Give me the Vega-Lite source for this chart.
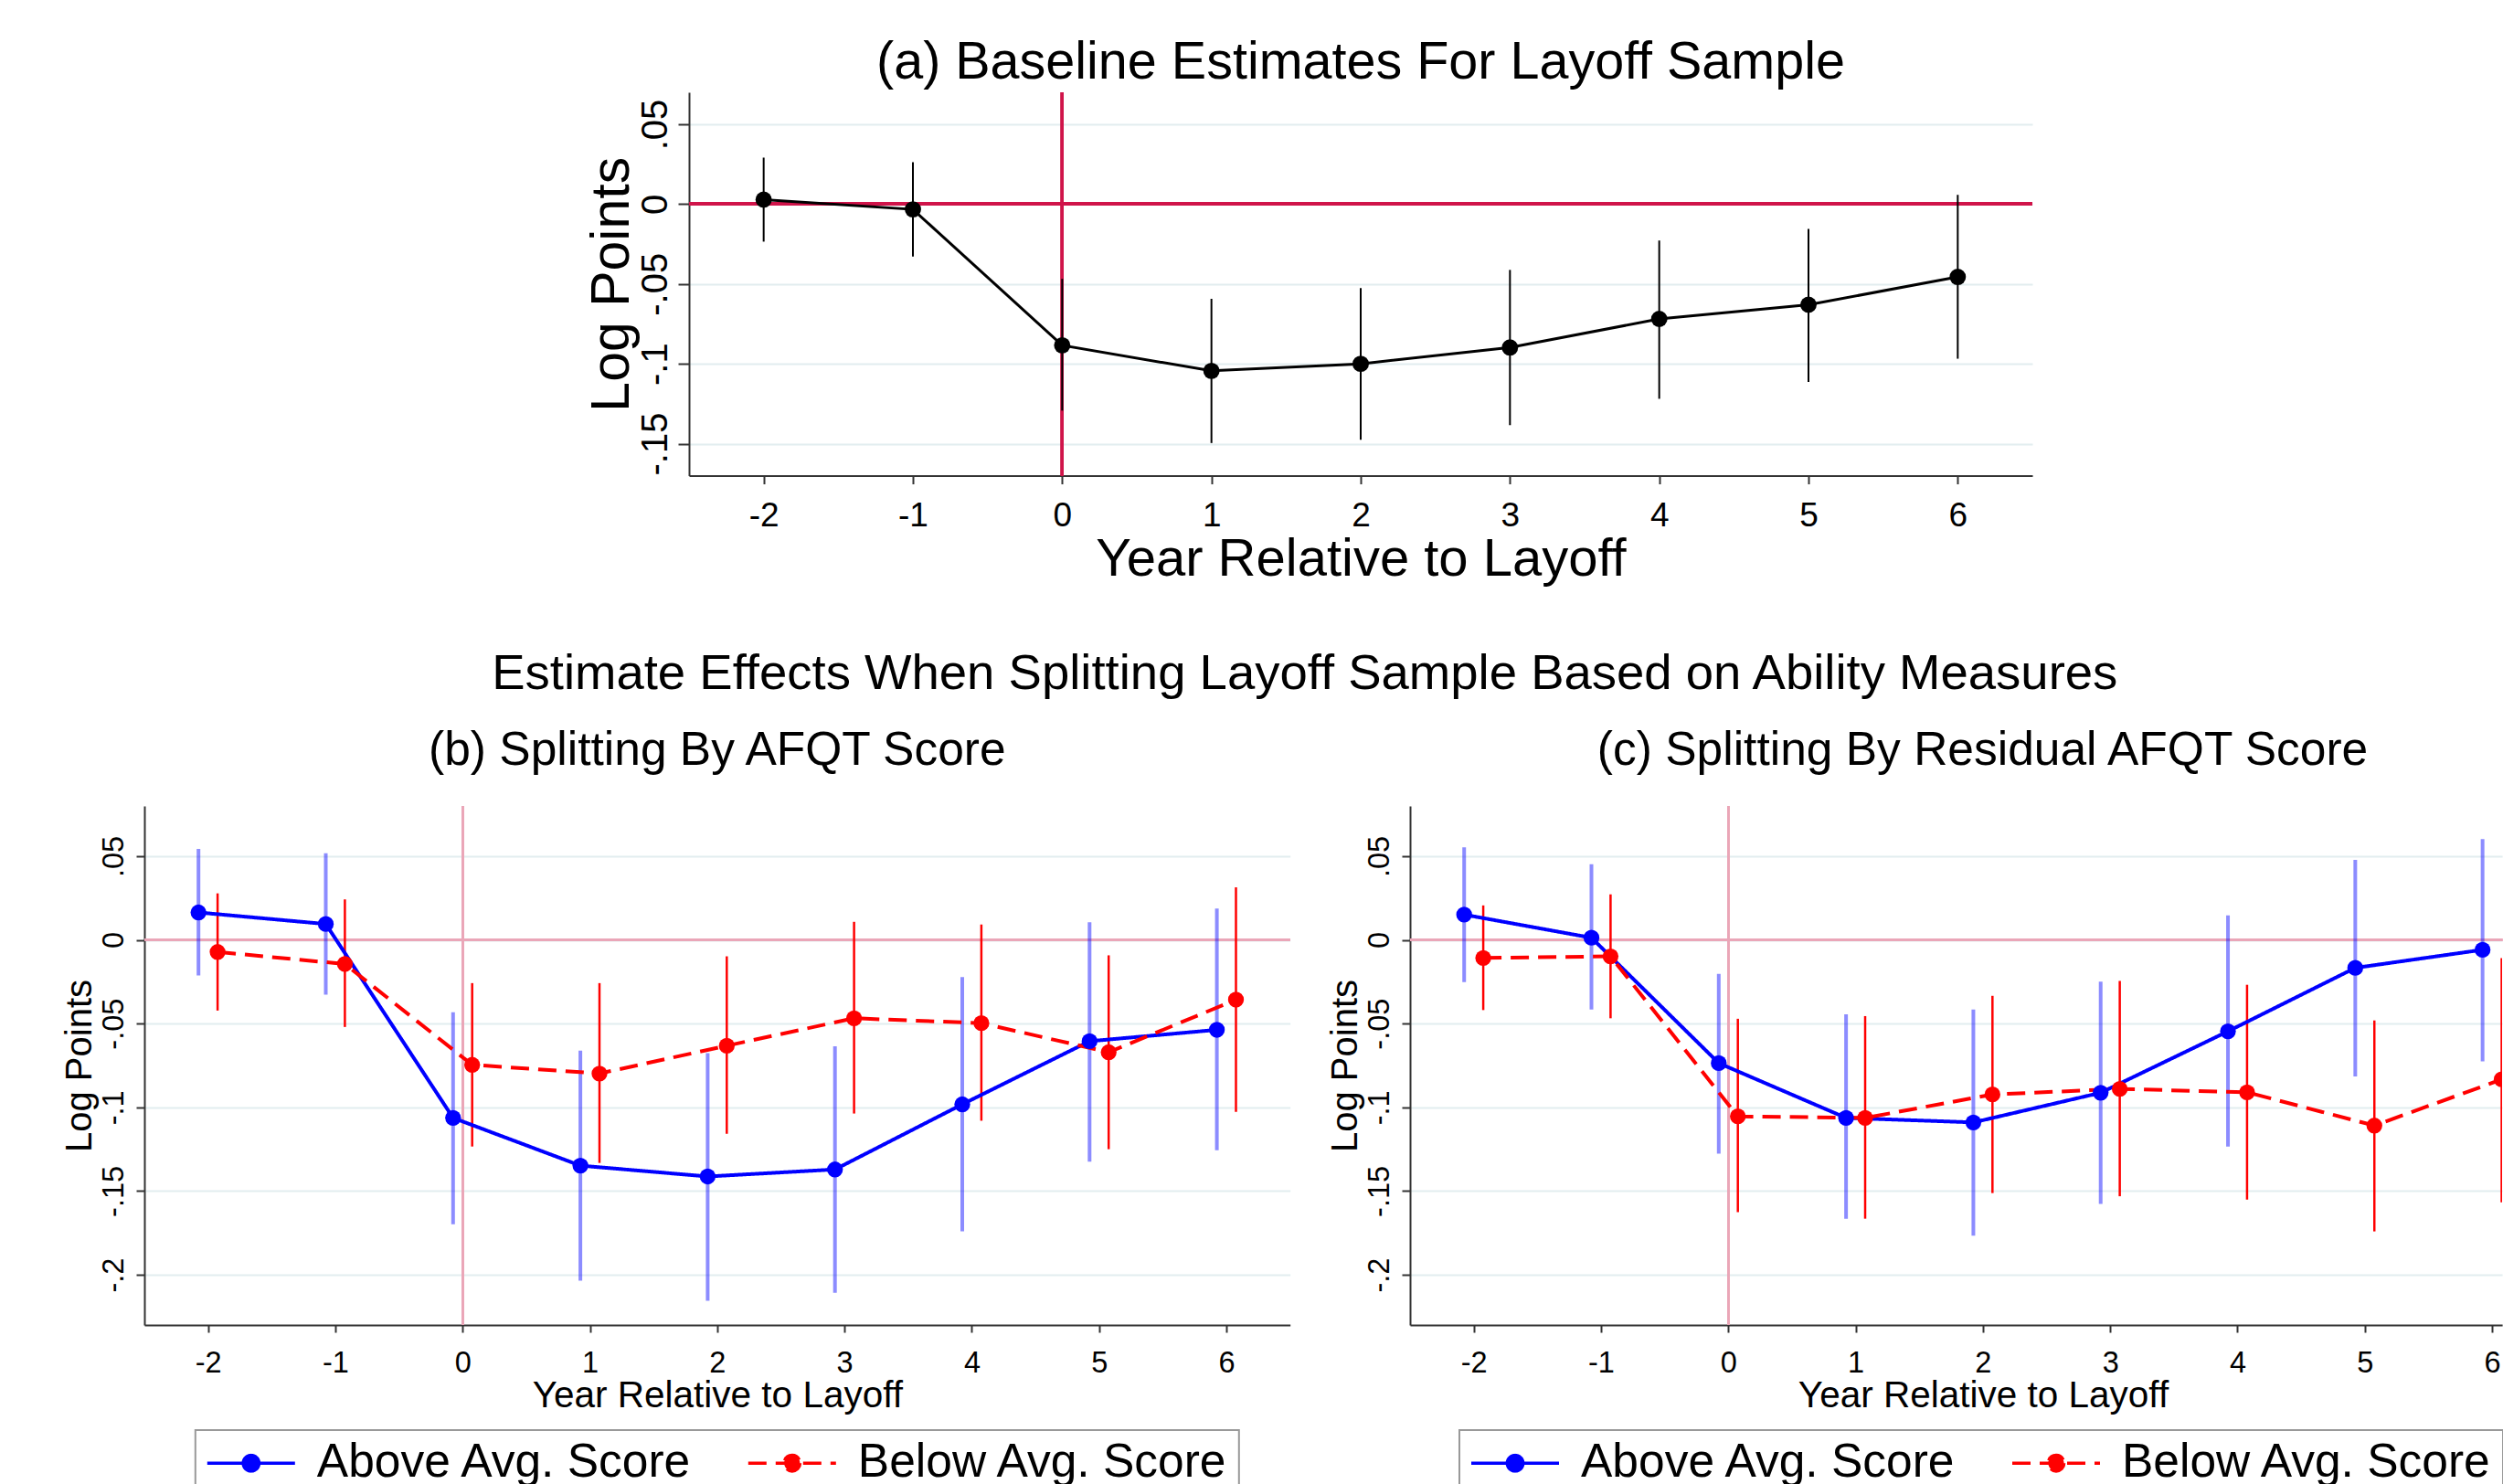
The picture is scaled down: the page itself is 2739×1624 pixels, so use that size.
{
  "$schema": "https://vega.github.io/schema/vega-lite/v6.json",
  "background": "white",
  "padding": {"left": 67, "top": 40, "right": 0, "bottom": 0},
  "config": {
    "view": {"stroke": null},
    "font": "Liberation Sans",
    "title": {"font": "Liberation Sans", "fontWeight": "normal", "color": "#000"},
    "axis": {
      "labelFont": "Liberation Sans", "titleFont": "Liberation Sans",
      "labelColor": "#000", "titleColor": "#000", "titleFontWeight": "normal",
      "domainColor": "#333", "tickColor": "#333", "domainWidth": 2, "tickWidth": 2,
      "gridColor": "#e2edef", "gridWidth": 2, "labelFlush": false, "labelOverlap": false
    }
  },
  "datasets": {
    "a": [
      {"year": -2, "est": 0.0028, "lo": -0.0235, "hi": 0.0291},
      {"year": -1, "est": -0.0033, "lo": -0.0328, "hi": 0.0263},
      {"year": 0, "est": -0.0884, "lo": -0.1293, "hi": -0.0468},
      {"year": 1, "est": -0.1044, "lo": -0.1496, "hi": -0.0593},
      {"year": 2, "est": -0.1000, "lo": -0.1475, "hi": -0.0526},
      {"year": 3, "est": -0.0898, "lo": -0.1384, "hi": -0.0412},
      {"year": 4, "est": -0.0719, "lo": -0.1219, "hi": -0.0228},
      {"year": 5, "est": -0.0630, "lo": -0.1114, "hi": -0.0156},
      {"year": 6, "est": -0.0456, "lo": -0.0968, "hi": 0.0058}
    ],
    "b": [
      {"year": -2, "pos": -2.075, "group": "Above Avg. Score", "est": 0.0164, "lo": -0.0213, "hi": 0.0543},
      {"year": -1, "pos": -1.075, "group": "Above Avg. Score", "est": 0.0095, "lo": -0.0327, "hi": 0.0517},
      {"year": 0, "pos": -0.075, "group": "Above Avg. Score", "est": -0.1063, "lo": -0.1698, "hi": -0.0432},
      {"year": 1, "pos": 0.925, "group": "Above Avg. Score", "est": -0.1348, "lo": -0.2035, "hi": -0.0661},
      {"year": 2, "pos": 1.925, "group": "Above Avg. Score", "est": -0.1413, "lo": -0.2156, "hi": -0.0677},
      {"year": 3, "pos": 2.925, "group": "Above Avg. Score", "est": -0.1371, "lo": -0.2107, "hi": -0.0635},
      {"year": 4, "pos": 3.925, "group": "Above Avg. Score", "est": -0.0982, "lo": -0.1741, "hi": -0.0222},
      {"year": 5, "pos": 4.925, "group": "Above Avg. Score", "est": -0.0605, "lo": -0.1325, "hi": 0.0105},
      {"year": 6, "pos": 5.925, "group": "Above Avg. Score", "est": -0.0537, "lo": -0.1256, "hi": 0.0187},
      {"year": -2, "pos": -1.925, "group": "Below Avg. Score", "est": -0.0072, "lo": -0.0422, "hi": 0.0278},
      {"year": -1, "pos": -0.925, "group": "Below Avg. Score", "est": -0.0144, "lo": -0.0520, "hi": 0.0242},
      {"year": 0, "pos": 0.075, "group": "Below Avg. Score", "est": -0.0746, "lo": -0.1234, "hi": -0.0258},
      {"year": 1, "pos": 1.075, "group": "Below Avg. Score", "est": -0.0798, "lo": -0.1332, "hi": -0.0258},
      {"year": 2, "pos": 2.075, "group": "Below Avg. Score", "est": -0.0632, "lo": -0.1158, "hi": -0.0098},
      {"year": 3, "pos": 3.075, "group": "Below Avg. Score", "est": -0.0468, "lo": -0.1037, "hi": 0.0108},
      {"year": 4, "pos": 4.075, "group": "Below Avg. Score", "est": -0.0497, "lo": -0.1080, "hi": 0.0092},
      {"year": 5, "pos": 5.075, "group": "Below Avg. Score", "est": -0.0671, "lo": -0.1250, "hi": -0.0092},
      {"year": 6, "pos": 6.075, "group": "Below Avg. Score", "est": -0.0357, "lo": -0.1027, "hi": 0.0314}
    ],
    "c": [
      {"year": -2, "pos": -2.075, "group": "Above Avg. Score", "est": 0.0151, "lo": -0.0252, "hi": 0.0553},
      {"year": -1, "pos": -1.075, "group": "Above Avg. Score", "est": 0.0013, "lo": -0.0416, "hi": 0.0452},
      {"year": 0, "pos": -0.075, "group": "Above Avg. Score", "est": -0.0736, "lo": -0.1276, "hi": -0.0203},
      {"year": 1, "pos": 0.925, "group": "Above Avg. Score", "est": -0.1063, "lo": -0.1665, "hi": -0.0445},
      {"year": 2, "pos": 1.925, "group": "Above Avg. Score", "est": -0.1090, "lo": -0.1767, "hi": -0.0416},
      {"year": 3, "pos": 2.925, "group": "Above Avg. Score", "est": -0.0913, "lo": -0.1577, "hi": -0.0249},
      {"year": 4, "pos": 3.925, "group": "Above Avg. Score", "est": -0.0546, "lo": -0.1234, "hi": 0.0147},
      {"year": 5, "pos": 4.925, "group": "Above Avg. Score", "est": -0.0167, "lo": -0.0815, "hi": 0.0478},
      {"year": 6, "pos": 5.925, "group": "Above Avg. Score", "est": -0.0059, "lo": -0.0726, "hi": 0.0602},
      {"year": -2, "pos": -1.925, "group": "Below Avg. Score", "est": -0.0108, "lo": -0.0419, "hi": 0.0206},
      {"year": -1, "pos": -0.925, "group": "Below Avg. Score", "est": -0.0098, "lo": -0.0468, "hi": 0.0272},
      {"year": 0, "pos": 0.075, "group": "Below Avg. Score", "est": -0.1054, "lo": -0.1626, "hi": -0.0471},
      {"year": 1, "pos": 1.075, "group": "Below Avg. Score", "est": -0.1063, "lo": -0.1665, "hi": -0.0455},
      {"year": 2, "pos": 2.075, "group": "Below Avg. Score", "est": -0.0923, "lo": -0.1512, "hi": -0.0334},
      {"year": 3, "pos": 3.075, "group": "Below Avg. Score", "est": -0.0890, "lo": -0.1531, "hi": -0.0245},
      {"year": 4, "pos": 4.075, "group": "Below Avg. Score", "est": -0.0910, "lo": -0.1551, "hi": -0.0268},
      {"year": 5, "pos": 5.075, "group": "Below Avg. Score", "est": -0.1109, "lo": -0.1741, "hi": -0.0481},
      {"year": 6, "pos": 6.075, "group": "Below Avg. Score", "est": -0.0833, "lo": -0.1567, "hi": -0.0109}
    ]
  },
  "spacing": 69,
  "vconcat": [
    {
      "spacing": 0,
      "hconcat": [
        {"width": 482, "height": 1, "data": {"values": []}, "mark": "point"},
        {
          "width": 1470, "height": 419.5,
          "title": {"text": "(a) Baseline Estimates For Layoff Sample", "fontSize": 57.5, "offset": 1, "frame": "group"},
          "data": {"name": "a"},
          "layer": [
            {"mark": {"type": "rule", "color": "#d0144a", "strokeWidth": 3.5}, "encoding": {"y": {"datum": 0, "type": "quantitative"}}},
            {"mark": {"type": "rule", "color": "#d0144a", "strokeWidth": 3}, "encoding": {"x": {"datum": 0, "type": "quantitative"}}},
            {"mark": {"type": "rule", "color": "#000", "strokeWidth": 2},
             "encoding": {
               "x": {"field": "year", "type": "quantitative", "scale": {"domain": [-2.5, 6.5], "nice": false, "zero": false},
                     "axis": {"title": "Year Relative to Layoff", "titleFontSize": 58, "titlePadding": 0.5, "labelFontSize": 37, "labelPadding": 17, "tickSize": 9, "grid": false,
                              "values": [-2, -1, 0, 1, 2, 3, 4, 5, 6], "labelExpr": "(datum.value < 0 ? '-' : '') + abs(datum.value)"}},
               "y": {"field": "lo", "type": "quantitative", "scale": {"domain": [-0.17, 0.07], "nice": false, "zero": false},
                     "axis": {"title": "Log Points", "titleFontSize": 59, "titlePadding": -2, "labelFontSize": 40, "labelAngle": 270, "labelAlign": "center", "labelBaseline": "bottom", "labelPadding": 5, "tickSize": 12, "grid": true,
                              "values": [-0.15, -0.1, -0.05, 0, 0.05], "labelExpr": "datum.value == 0 ? '0' : (datum.value < 0 ? '-' : '') + replace(format(abs(datum.value), '.2~f'), '0.', '.')"}},
               "y2": {"field": "hi"}
             }},
            {"mark": {"type": "line", "color": "#000", "strokeWidth": 3}, "encoding": {"x": {"field": "year", "type": "quantitative"}, "y": {"field": "est", "type": "quantitative"}}},
            {"mark": {"type": "point", "filled": true, "color": "#000", "size": 320, "opacity": 1}, "encoding": {"x": {"field": "year", "type": "quantitative"}, "y": {"field": "est", "type": "quantitative"}}}
          ]
        }
      ]
    },
    {
      "spacing": 39,
      "title": {"text": "Estimate Effects When Splitting Layoff Sample Based on Ability Measures", "fontSize": 54.5, "offset": 30, "anchor": "middle", "dx": 24},
      "resolve": {"scale": {"color": "independent", "strokeDash": "independent"}, "legend": {"color": "independent"}},
      "hconcat": [
        {
          "width": 1253.7, "height": 568,
          "title": {"text": "(b) Splitting By AFQT Score", "fontSize": 51.5, "offset": 34, "frame": "group"},
          "data": {"name": "b"},
          "layer": [
            {"mark": {"type": "rule", "color": "#eaa6b8", "strokeWidth": 2.5}, "encoding": {"y": {"datum": 0, "type": "quantitative"}}},
            {"mark": {"type": "rule", "color": "#eaa6b8", "strokeWidth": 2}, "encoding": {"x": {"datum": 0, "type": "quantitative"}}},
            {"transform": [{"filter": "datum.group === 'Above Avg. Score'"}],
             "mark": {"type": "rule", "color": "#0000ff", "opacity": 0.45, "strokeWidth": 4},
             "encoding": {
               "x": {"field": "pos", "type": "quantitative", "scale": {"domain": [-2.5, 6.5], "nice": false, "zero": false},
                     "axis": {"title": "Year Relative to Layoff", "titleFontSize": 40.5, "titlePadding": 0, "labelFontSize": 32.5, "labelPadding": 17, "tickSize": 8, "grid": false,
                              "values": [-2, -1, 0, 1, 2, 3, 4, 5, 6], "labelExpr": "(datum.value < 0 ? '-' : '') + abs(datum.value)"}},
               "y": {"field": "lo", "type": "quantitative", "scale": {"domain": [-0.23, 0.08], "nice": false, "zero": false},
                     "axis": {"title": "Log Points", "titleFontSize": 40, "titlePadding": 1, "labelFontSize": 32.5, "labelAngle": 270, "labelAlign": "center", "labelBaseline": "bottom", "labelPadding": 7.5, "tickSize": 9, "grid": true,
                              "values": [-0.2, -0.15, -0.1, -0.05, 0, 0.05], "labelExpr": "datum.value == 0 ? '0' : (datum.value < 0 ? '-' : '') + replace(format(abs(datum.value), '.2~f'), '0.', '.')"}},
               "y2": {"field": "hi"}
             }},
            {"transform": [{"filter": "datum.group === 'Below Avg. Score'"}],
             "mark": {"type": "rule", "color": "#ff0000", "strokeWidth": 2.5},
             "encoding": {"x": {"field": "pos", "type": "quantitative"}, "y": {"field": "lo", "type": "quantitative"}, "y2": {"field": "hi"}}},
            {"mark": {"type": "line", "strokeWidth": 4},
             "encoding": {
               "x": {"field": "pos", "type": "quantitative"}, "y": {"field": "est", "type": "quantitative"},
               "color": {"field": "group", "type": "nominal", "scale": {"domain": ["Above Avg. Score", "Below Avg. Score"], "range": ["#0000ff", "#ff0000"]},
                         "legend": {"orient": "none", "legendX": 55.8, "legendY": 683, "direction": "horizontal", "title": null,
                                    "labelFontSize": 51.5, "labelFont": "Liberation Sans", "labelColor": "#000", "labelLimit": 2000, "labelOffset": 22,
                                    "symbolType": "M-1,0L1,0M0.18,0A0.18,0.18,0,1,1,-0.18,0A0.18,0.18,0,1,1,0.18,0Z",
                                    "symbolSize": 9216, "symbolStrokeWidth": 3.5, "columnPadding": 58, "padding": 11, "strokeColor": "#999", "clipHeight": 50,
                                    "encode": {
                                      "symbols": {"update": {
                                        "fill": {"signal": "datum.value === 'Above Avg. Score' ? '#0000ff' : '#ff0000'"},
                                        "stroke": {"signal": "datum.value === 'Above Avg. Score' ? '#0000ff' : '#ff0000'"},
                                        "strokeDash": {"signal": "datum.value === 'Above Avg. Score' ? [1, 0] : [20, 10]"},
                                        "fillOpacity": {"value": 1}, "strokeOpacity": {"value": 1}, "opacity": {"value": 1},
                                        "size": {"value": 9216}, "strokeWidth": {"value": 3.5},
                                        "shape": {"value": "M-1,0L1,0M0.18,0A0.18,0.18,0,1,1,-0.18,0A0.18,0.18,0,1,1,0.18,0Z"}
                                      }},
                                      "legend": {"update": {"strokeWidth": {"value": 2}}}
                                    }}},
               "strokeDash": {"field": "group", "type": "nominal", "scale": {"domain": ["Above Avg. Score", "Below Avg. Score"], "range": [[1, 0], [20, 10]]}, "legend": null}
             }},
            {"mark": {"type": "point", "filled": true, "size": 300, "opacity": 1},
             "encoding": {"x": {"field": "pos", "type": "quantitative"}, "y": {"field": "est", "type": "quantitative"},
                          "color": {"field": "group", "type": "nominal", "scale": {"domain": ["Above Avg. Score", "Below Avg. Score"], "range": ["#0000ff", "#ff0000"]}, "legend": null}}}
          ]
        },
        {
          "width": 1195.1, "height": 568,
          "title": {"text": "(c) Splitting By Residual AFQT Score", "fontSize": 51.5, "offset": 34, "frame": "group", "dx": 29},
          "data": {"name": "c"},
          "layer": [
            {"mark": {"type": "rule", "color": "#eaa6b8", "strokeWidth": 2.5}, "encoding": {"y": {"datum": 0, "type": "quantitative"}}},
            {"mark": {"type": "rule", "color": "#eaa6b8", "strokeWidth": 2}, "encoding": {"x": {"datum": 0, "type": "quantitative"}}},
            {"transform": [{"filter": "datum.group === 'Above Avg. Score'"}],
             "mark": {"type": "rule", "color": "#0000ff", "opacity": 0.45, "strokeWidth": 4, "clip": true},
             "encoding": {
               "x": {"field": "pos", "type": "quantitative", "scale": {"domain": [-2.5, 6.079], "nice": false, "zero": false},
                     "axis": {"title": "Year Relative to Layoff", "titleFontSize": 40.5, "titlePadding": 0, "titleX": 627, "labelFontSize": 32.5, "labelPadding": 17, "tickSize": 8, "grid": false,
                              "values": [-2, -1, 0, 1, 2, 3, 4, 5, 6], "labelExpr": "(datum.value < 0 ? '-' : '') + abs(datum.value)"}},
               "y": {"field": "lo", "type": "quantitative", "scale": {"domain": [-0.23, 0.08], "nice": false, "zero": false},
                     "axis": {"title": "Log Points", "titleFontSize": 40, "titlePadding": 1, "labelFontSize": 32.5, "labelAngle": 270, "labelAlign": "center", "labelBaseline": "bottom", "labelPadding": 7.5, "tickSize": 9, "grid": true,
                              "values": [-0.2, -0.15, -0.1, -0.05, 0, 0.05], "labelExpr": "datum.value == 0 ? '0' : (datum.value < 0 ? '-' : '') + replace(format(abs(datum.value), '.2~f'), '0.', '.')"}},
               "y2": {"field": "hi"}
             }},
            {"transform": [{"filter": "datum.group === 'Below Avg. Score'"}],
             "mark": {"type": "rule", "color": "#ff0000", "strokeWidth": 2.5, "clip": true},
             "encoding": {"x": {"field": "pos", "type": "quantitative"}, "y": {"field": "lo", "type": "quantitative"}, "y2": {"field": "hi"}}},
            {"mark": {"type": "line", "strokeWidth": 4, "clip": true},
             "encoding": {
               "x": {"field": "pos", "type": "quantitative"}, "y": {"field": "est", "type": "quantitative"},
               "color": {"field": "group", "type": "nominal", "scale": {"domain": ["Above Avg. Score", "Below Avg. Score"], "range": ["#0000ff", "#ff0000"]},
                         "legend": {"orient": "none", "legendX": 54, "legendY": 683, "direction": "horizontal", "title": null,
                                    "labelFontSize": 51.5, "labelFont": "Liberation Sans", "labelColor": "#000", "labelLimit": 2000, "labelOffset": 22,
                                    "symbolType": "M-1,0L1,0M0.18,0A0.18,0.18,0,1,1,-0.18,0A0.18,0.18,0,1,1,0.18,0Z",
                                    "symbolSize": 9216, "symbolStrokeWidth": 3.5, "columnPadding": 58, "padding": 11, "strokeColor": "#999", "clipHeight": 50,
                                    "encode": {
                                      "symbols": {"update": {
                                        "fill": {"signal": "datum.value === 'Above Avg. Score' ? '#0000ff' : '#ff0000'"},
                                        "stroke": {"signal": "datum.value === 'Above Avg. Score' ? '#0000ff' : '#ff0000'"},
                                        "strokeDash": {"signal": "datum.value === 'Above Avg. Score' ? [1, 0] : [20, 10]"},
                                        "fillOpacity": {"value": 1}, "strokeOpacity": {"value": 1}, "opacity": {"value": 1},
                                        "size": {"value": 9216}, "strokeWidth": {"value": 3.5},
                                        "shape": {"value": "M-1,0L1,0M0.18,0A0.18,0.18,0,1,1,-0.18,0A0.18,0.18,0,1,1,0.18,0Z"}
                                      }},
                                      "legend": {"update": {"strokeWidth": {"value": 2}}}
                                    }}},
               "strokeDash": {"field": "group", "type": "nominal", "scale": {"domain": ["Above Avg. Score", "Below Avg. Score"], "range": [[1, 0], [20, 10]]}, "legend": null}
             }},
            {"mark": {"type": "point", "filled": true, "size": 300, "opacity": 1, "clip": true},
             "encoding": {"x": {"field": "pos", "type": "quantitative"}, "y": {"field": "est", "type": "quantitative"},
                          "color": {"field": "group", "type": "nominal", "scale": {"domain": ["Above Avg. Score", "Below Avg. Score"], "range": ["#0000ff", "#ff0000"]}, "legend": null}}}
          ]
        }
      ]
    }
  ]
}
